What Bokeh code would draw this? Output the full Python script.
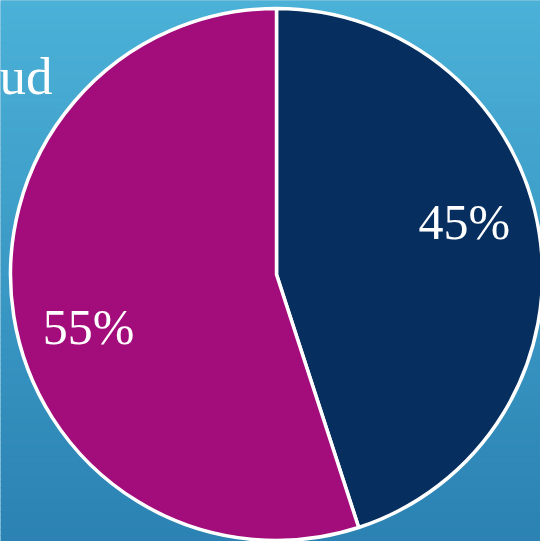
import math
from bokeh.plotting import figure
from bokeh.models import Range1d, ColumnDataSource
from bokeh.core.properties import value
from bokeh.embed import file_html
from bokeh.resources import INLINE

# data
categories = ["A", "B"]
values = [45, 55]
labels = ["45%", "55%"]
colors = ["#062e5f", "#a30d7b"]
title_text = "ud"

W, H = 540, 541
p = figure(width=W, height=H, output_backend="svg", toolbar_location=None,
           x_range=Range1d(0, W), y_range=Range1d(0, H), min_border=0)
p.axis.visible = False
p.grid.visible = False
p.outline_line_color = None
p.background_fill_color = "#3c9cc8"
p.border_fill_color = "#3c9cc8"

# vertical gradient background (style)
top = (0x4b, 0xb1, 0xd7)
bot = (0x2b, 0x82, 0xb3)
n = 90
bottoms, tops, cols = [], [], []
for i in range(n):
    t = i / (n - 1)
    c = tuple(int(round(top[k] + (bot[k] - top[k]) * t)) for k in range(3))
    y1 = H - i * H / n
    y0 = H - (i + 1) * H / n
    tops.append(y1 + 0.5)
    bottoms.append(y0 - 0.5)
    cols.append("#%02x%02x%02x" % c)
p.quad(left=0, right=W, bottom=bottoms, top=tops, color=cols, line_color=None)

# pie
cx, cy, r = 276, 267, 266
total = sum(values)
starts, ends, mids = [], [], []
a = math.pi / 2
for v in values:
    da = 2 * math.pi * v / total
    starts.append(a - da)
    ends.append(a)
    mids.append(a - da / 2)
    a -= da
src = ColumnDataSource(dict(cat=categories, start=starts, end=ends, color=colors))
p.wedge(x=cx, y=cy, radius=r, start_angle="start", end_angle="end",
        fill_color="color", line_color="white", line_width=3.5, source=src)

# labels
lr = 0.733 * r
off = math.radians(6.5)
lx = [cx + lr * math.cos(m + off) for m in mids]
ly = [cy + lr * math.sin(m + off) for m in mids]
p.text(x=lx, y=ly, text=labels, text_color="white", text_font=value("Liberation Serif"),
       text_font_size="50px", text_align="center", text_baseline="middle")

# partially visible title
p.text(x=[52], y=[466], text=[title_text], text_color="white",
       text_font=value("Liberation Serif"), text_font_size="53px",
       text_align="right", text_baseline="middle")

open("out.html", "w").write(file_html(p, INLINE))
